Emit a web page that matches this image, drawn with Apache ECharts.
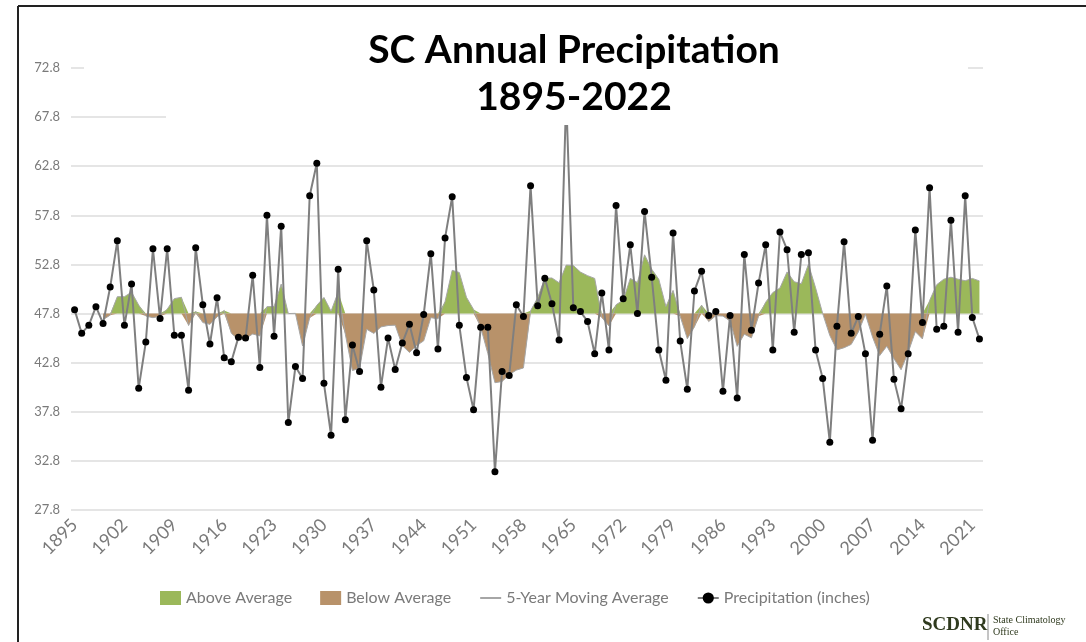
<!DOCTYPE html>
<html>
<head>
<meta charset="utf-8">
<script src="https://cdn.jsdelivr.net/npm/echarts@6/dist/echarts.min.js"></script>
<style>
html,body{margin:0;padding:0;background:#fff;}
#chart{width:1086px;height:642px;}
</style>
</head>
<body>
<div id="chart"></div>
<script>
// Categories (years)
const years = [
1895,1896,1897,1898,1899,1900,1901,1902,1903,1904,1905,1906,1907,1908,1909,1910,1911,1912,1913,1914,
1915,1916,1917,1918,1919,1920,1921,1922,1923,1924,1925,1926,1927,1928,1929,1930,1931,1932,1933,1934,
1935,1936,1937,1938,1939,1940,1941,1942,1943,1944,1945,1946,1947,1948,1949,1950,1951,1952,1953,1954,
1955,1956,1957,1958,1959,1960,1961,1962,1963,1964,1965,1966,1967,1968,1969,1970,1971,1972,1973,1974,
1975,1976,1977,1978,1979,1980,1981,1982,1983,1984,1985,1986,1987,1988,1989,1990,1991,1992,1993,1994,
1995,1996,1997,1998,1999,2000,2001,2002,2003,2004,2005,2006,2007,2008,2009,2010,2011,2012,2013,2014,
2015,2016,2017,2018,2019,2020,2021,2022];

// Annual precipitation (inches)
const precipitation = [
48.2,45.8,46.6,48.5,46.8,50.5,55.2,46.6,50.8,40.2,44.9,54.4,47.3,54.4,45.6,45.6,40.0,54.5,48.7,44.7,
49.4,43.3,42.9,45.4,45.3,51.7,42.3,57.8,45.5,56.7,36.7,42.4,41.2,59.8,63.1,40.7,35.4,52.3,37.0,44.6,
41.9,55.2,50.2,40.3,45.3,42.1,44.8,46.7,43.8,47.7,53.9,44.2,55.5,59.7,46.6,41.3,38.0,46.4,46.4,31.7,
41.9,41.5,48.7,47.5,60.8,48.6,51.4,48.8,45.1,69.8,48.4,48.0,47.0,43.7,49.9,44.1,58.8,49.3,54.8,47.8,
58.2,51.5,44.1,41.0,56.0,45.0,40.1,50.1,52.1,47.6,48.0,39.9,47.6,39.2,53.8,46.1,50.9,54.8,44.1,56.1,
54.3,45.9,53.8,54.0,44.1,41.2,34.7,46.5,55.1,45.8,47.5,43.7,34.9,45.7,50.6,41.1,38.1,43.7,56.3,46.9,
60.6,46.2,46.5,57.3,45.9,59.8,47.4,45.2];

// 5-year moving average
const movingAverage = [
null,null,null,null,47.18,47.64,49.52,49.52,49.98,48.66,47.54,47.38,47.52,48.24,49.32,49.46,46.58,48.02,46.88,46.70,
47.46,48.12,45.80,45.14,45.26,45.72,45.52,48.50,48.52,50.80,47.80,47.82,44.50,47.36,48.64,49.44,48.04,50.00,45.70,42.00,
42.24,46.20,45.78,46.44,46.58,46.62,44.54,43.84,44.54,45.02,47.38,47.26,49.02,52.20,51.98,49.46,48.22,46.40,43.74,40.76,
40.88,41.58,42.04,42.26,48.08,49.42,51.40,51.42,50.94,52.74,52.70,52.02,51.66,51.38,47.40,46.54,48.70,49.16,51.38,50.96,
53.78,52.32,51.28,48.52,50.16,47.52,45.24,46.44,48.66,46.98,47.58,47.54,47.04,44.46,45.70,45.32,47.52,48.96,49.94,50.40,
52.04,51.04,50.84,52.82,50.42,47.80,45.56,44.10,44.32,44.66,45.92,47.72,45.40,43.52,44.48,43.20,42.08,43.84,45.96,45.22,
49.12,50.74,51.30,51.50,51.30,51.14,51.38,51.12];

// Long-term average (baseline) and axis ticks
const average = 47.8;
const yTicks = [27.8, 32.8, 37.8, 42.8, 47.8, 52.8, 57.8, 62.8, 67.8, 72.8];

const aboveData = movingAverage.map(v => v == null ? null : Math.max(v, average));
const belowData = movingAverage.map(v => v == null ? null : Math.min(v, average));

const GREEN = '#9bb85a';
const BROWN = '#b8926a';
const FONT = 'Lato, "Open Sans", sans-serif';

const chart = echarts.init(document.getElementById('chart'), null, {renderer: 'canvas'});
chart.setOption({
  animation: false,
  backgroundColor: '#ffffff',
  title: {
    text: 'SC Annual Precipitation\n1895-2022',
    left: 569,
    textAlign: 'center',
    top: 22,
    z: 200,
    textStyle: {
      fontFamily: FONT, fontWeight: 'bold', fontSize: 39, color: '#000',
      lineHeight: 47
    }
  },
  grid: {left: 71, top: 68, width: 912, height: 442, containLabel: false},
  legend: {
    bottom: 31,
    left: 155,
    itemGap: 28,
    itemWidth: 21,
    itemHeight: 14,
    textStyle: {fontFamily: FONT, fontSize: 16, color: '#7a7a7a'},
    data: [
      {name: 'Above Average', icon: 'rect'},
      {name: 'Below Average', icon: 'rect'},
      {name: '5-Year Moving Average', itemStyle: {opacity: 0}},
      {name: 'Precipitation (inches)'}
    ]
  },
  xAxis: {
    type: 'category',
    data: years,
    boundaryGap: true,
    axisLine: {show: false},
    axisTick: {show: false},
    axisLabel: {
      interval: 6, rotate: 45, margin: 12,
      fontFamily: FONT, fontSize: 18, color: '#7a7a7a'
    },
    splitLine: {show: false}
  },
  yAxis: {
    type: 'value',
    min: yTicks[0],
    max: yTicks[yTicks.length - 1],
    interval: 5,
    axisLine: {show: false},
    axisTick: {show: false},
    axisLabel: {
      margin: 11, fontFamily: FONT, fontSize: 13, color: '#7a7a7a',
      formatter: v => v.toFixed(1)
    },
    splitLine: {lineStyle: {color: '#dcdcdc', width: 1.5}}
  },
  graphic: [
    {type: 'rect', z: 100, shape: {x: 84, y: 20, width: 884, height: 60}, style: {fill: '#fff'}},
    {type: 'rect', z: 100, shape: {x: 166, y: 80, width: 820, height: 45}, style: {fill: '#fff'}},
    {type: 'line', z: 100, shape: {x1: 18, y1: 6, x2: 1100, y2: 6}, style: {stroke: '#222', lineWidth: 2}},
    {type: 'line', z: 100, shape: {x1: 18, y1: 6, x2: 18, y2: 660}, style: {stroke: '#222', lineWidth: 2}},
    {type: 'text', z: 100, left: 922, top: 616, style: {text: 'SCDNR', font: 'bold 19px "Liberation Serif", serif', fill: '#2f3a1e'}},
    {type: 'line', z: 100, shape: {x1: 988, y1: 614, x2: 988, y2: 640}, style: {stroke: '#8a8a8a', lineWidth: 1}},
    {type: 'text', z: 100, left: 993, top: 614, style: {text: 'State Climatology\nOffice', font: '10px "Liberation Serif", serif', fill: '#2f3a1e', lineHeight: 12}}
  ],
  series: [
    {
      name: 'Above Average', type: 'line', data: aboveData, symbol: 'none', z: 1,
      itemStyle: {color: GREEN},
      lineStyle: {width: 0, color: GREEN},
      areaStyle: {color: GREEN, opacity: 1, origin: average}
    },
    {
      name: 'Below Average', type: 'line', data: belowData, symbol: 'none', z: 1,
      itemStyle: {color: BROWN},
      lineStyle: {width: 0, color: BROWN},
      areaStyle: {color: BROWN, opacity: 1, origin: average}
    },
    {
      name: '5-Year Moving Average', type: 'line', data: movingAverage, symbol: 'none', z: 2,
      itemStyle: {color: '#a6a6a6'},
      lineStyle: {width: 1, color: '#a6a6a6'}
    },
    {
      name: 'Precipitation (inches)', type: 'line', data: precipitation, z: 3,
      symbol: 'circle', symbolSize: 7, showSymbol: true, showAllSymbol: true,
      itemStyle: {color: '#000'},
      lineStyle: {width: 2, color: '#7f7f7f'}
    }
  ]
});
</script>
</body>
</html>
